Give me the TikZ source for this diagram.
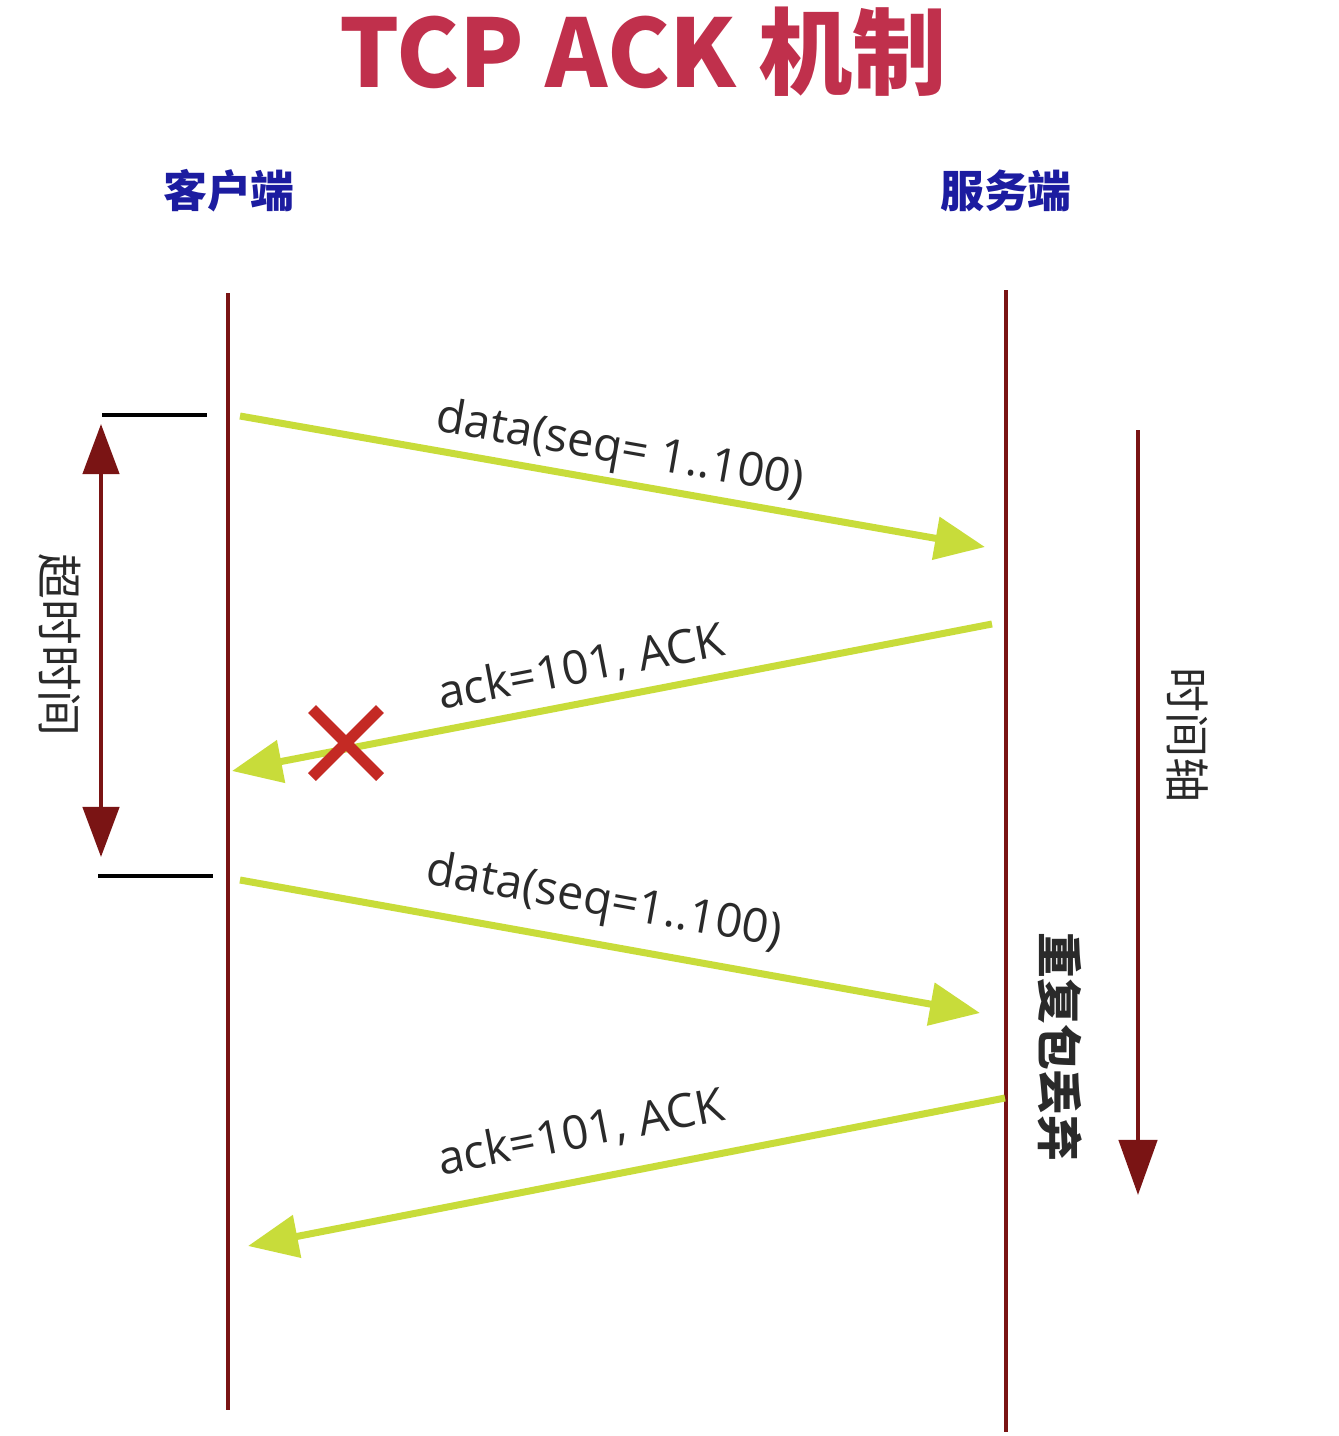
\documentclass[tikz,border=0pt]{standalone}
\usepackage{fontspec}
\setmainfont{Open Sans}
\newfontfamily\cjk{Noto Sans CJK SC}
\usetikzlibrary{arrows.meta,calc}
\definecolor{titlered}{HTML}{C0304C}
\definecolor{hdrblue}{HTML}{1C1CA0}
\definecolor{lifered}{HTML}{7A1414}
\definecolor{msggreen}{HTML}{C8DC3A}
\definecolor{crossred}{HTML}{C42A24}
\definecolor{txtgray}{HTML}{2A2A2A}
\tikzset{
  lifeline/.style={draw=lifered, line width=0.035cm},
  msg/.style={draw=msggreen, line width=0.07cm, -{Triangle[length=0.5cm,width=0.42cm]}},
  msglabel/.style={text=txtgray, font=\fontsize{13.3pt}{15pt}\selectfont, inner sep=0pt},
  hdr/.style={text=hdrblue, font=\cjk\bfseries\fontsize{12.5pt}{14pt}\selectfont, inner sep=0pt},
  vlabel/.style={text=txtgray, font=\cjk\fontsize{13pt}{15pt}\selectfont, rotate=-90, inner sep=0pt},
  tarrow/.style={draw=lifered, line width=0.045cm},
  tick/.style={draw=black, line width=0.035cm},
}
\begin{document}
\begin{tikzpicture}[x=0.01cm,y=-0.01cm]
\useasboundingbox (0,0) rectangle (1338,1436);
\fill[white] (0,0) rectangle (1338,1436);
% title
\node[text=titlered, font=\cjk\bfseries\fontsize{26.8pt}{30pt}\selectfont, inner sep=0pt] (title) at (643,52) {TCP ACK 机制};
% headers
\node[hdr] (client) at (229,191) {客户端};
\node[hdr] (server) at (1006,191) {服务端};
% lifelines
\coordinate (c0) at (228,293);
\coordinate (c1) at (228,1410);
\coordinate (s0) at (1006,290);
\coordinate (s1) at (1006,1432);
\draw[lifeline] (c0) -- (c1);
\draw[lifeline] (s0) -- (s1);
% timeout brackets
\coordinate (t1a) at (102,415); \coordinate (t1b) at (207,415);
\coordinate (t2a) at (98,876); \coordinate (t2b) at (213,876);
\draw[tick] (t1a) -- (t1b);
\draw[tick] (t2a) -- (t2b);
\coordinate (ta) at (101,424);
\coordinate (tb) at (101,857);
\draw[tarrow, {Triangle[length=0.5cm,width=0.36cm]}-{Triangle[length=0.5cm,width=0.36cm]}] (ta) -- (tb);
\node[vlabel] (timeout) at (60,645) {超时时间};
% time axis
\coordinate (ax0) at (1138,430);
\coordinate (ax1) at (1138,1195);
\draw[tarrow, -{Triangle[length=0.55cm,width=0.38cm]}] (ax0) -- (ax1);
\node[vlabel, font=\cjk\fontsize{12.8pt}{15pt}\selectfont] (axis) at (1188,735) {时间轴};
\node[vlabel, font=\cjk\bfseries\fontsize{13pt}{15pt}\selectfont] (drop) at (1060,1047) {重复包丢弃};
% messages
\coordinate (m1s) at (240,416); \coordinate (m1e) at (985,547);
\coordinate (m2s) at (992,624); \coordinate (m2e) at (232,771);
\coordinate (m3s) at (240,880); \coordinate (m3e) at (980,1013);
\coordinate (m4s) at (1005,1098); \coordinate (m4e) at (248,1246);
\draw[msg] (m1s) -- (m1e);
\draw[msg] (m2s) -- (m2e);
\draw[msg] (m3s) -- (m3e);
\draw[msg] (m4s) -- (m4e);
\node[msglabel, rotate=-10] (l1) at (620,451) {data(seq= 1..100)};
\node[msglabel, rotate=10.9] (l2) at (581,668) {ack=101, ACK};
\node[msglabel, rotate=-10.2] (l3) at (604,903) {data(seq=1..100)};
\node[msglabel, rotate=11] (l4) at (581,1133) {ack=101, ACK};
% lost marker
\coordinate (x0) at (346,743);
\draw[crossred, line width=0.11cm] ($(x0)+(-34,-34)$) -- ($(x0)+(34,34)$);
\draw[crossred, line width=0.11cm] ($(x0)+(-34,34)$) -- ($(x0)+(34,-34)$);
\end{tikzpicture}
\end{document}
